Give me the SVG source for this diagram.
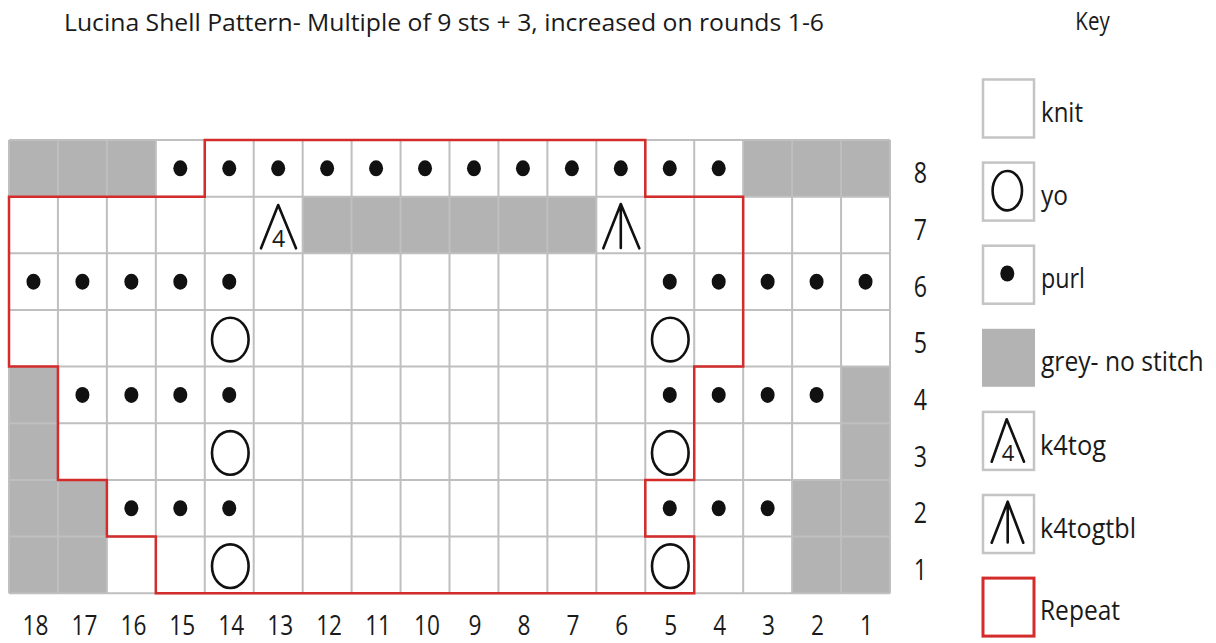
<svg xmlns="http://www.w3.org/2000/svg" width="1216" height="643" viewBox="0 0 1216 643">
<defs>
<style>
.t{font-family:"Open Sans","Noto Sans","Liberation Sans",sans-serif;fill:#1a1a1a}
.grid{stroke:#bfbfbf;stroke-width:2;fill:none}
.grey{fill:#b3b3b3}
.dot{fill:#111}
.yo{fill:none;stroke:#111;stroke-width:2.6}
.sym{fill:none;stroke:#111;stroke-width:2.6;stroke-linecap:round;stroke-linejoin:round}
.rep{fill:none;stroke:#d42b2b;stroke-width:2.5}
.kbox{fill:#fff;stroke:#c4c4c4;stroke-width:2.5}
.num{font-size:29px;text-anchor:middle}
.cnum{font-size:27px;text-anchor:middle}
.lab{font-size:28px}
</style>
<ellipse id="purl" class="dot" cx="0" cy="0" rx="7" ry="8"/>
<ellipse id="yo" class="yo" cx="0" cy="0" rx="18.3" ry="21.8"/>
</defs>
<rect width="1216" height="643" fill="#fff"/>

<text id="title" class="t" x="64" y="31" font-size="24" textLength="760" lengthAdjust="spacingAndGlyphs">Lucina Shell Pattern- Multiple of 9 sts + 3, increased on rounds 1-6</text>

<g id="chart">
<rect x="9" y="140" width="881" height="453.2" fill="#fff"/>
<g id="grey-cells">
<rect class="grey" x="9" y="140" width="146.83" height="56.65"/>
<rect class="grey" x="743.17" y="140" width="146.83" height="56.65"/>
<rect class="grey" x="302.67" y="196.65" width="293.66" height="56.65"/>
<rect class="grey" x="9" y="366.6" width="48.94" height="226.6"/>
<rect class="grey" x="57.94" y="479.9" width="48.95" height="113.3"/>
<rect class="grey" x="841.06" y="366.6" width="48.94" height="226.6"/>
<rect class="grey" x="792.11" y="479.9" width="48.95" height="113.3"/>
</g>
<path class="grid" d="M9 140V593.2M57.94 140V593.2M106.89 140V593.2M155.83 140V593.2M204.78 140V593.2M253.72 140V593.2M302.67 140V593.2M351.61 140V593.2M400.56 140V593.2M449.5 140V593.2M498.44 140V593.2M547.39 140V593.2M596.33 140V593.2M645.28 140V593.2M694.22 140V593.2M743.17 140V593.2M792.11 140V593.2M841.06 140V593.2M890 140V593.2M9 140H890M9 196.65H890M9 253.3H890M9 309.95H890M9 366.6H890M9 423.25H890M9 479.9H890M9 536.55H890M9 593.2H890"/>
</g>

<g id="purls">
<use href="#purl" x="180.31" y="168.33"/><use href="#purl" x="229.25" y="168.33"/><use href="#purl" x="278.19" y="168.33"/><use href="#purl" x="327.14" y="168.33"/><use href="#purl" x="376.08" y="168.33"/><use href="#purl" x="425.03" y="168.33"/><use href="#purl" x="473.97" y="168.33"/><use href="#purl" x="522.92" y="168.33"/><use href="#purl" x="571.86" y="168.33"/><use href="#purl" x="620.81" y="168.33"/><use href="#purl" x="669.75" y="168.33"/><use href="#purl" x="718.69" y="168.33"/>
<use href="#purl" x="33.47" y="281.63"/><use href="#purl" x="82.42" y="281.63"/><use href="#purl" x="131.36" y="281.63"/><use href="#purl" x="180.31" y="281.63"/><use href="#purl" x="229.25" y="281.63"/><use href="#purl" x="669.75" y="281.63"/><use href="#purl" x="718.69" y="281.63"/><use href="#purl" x="767.64" y="281.63"/><use href="#purl" x="816.58" y="281.63"/><use href="#purl" x="865.53" y="281.63"/>
<use href="#purl" x="82.42" y="394.93"/><use href="#purl" x="131.36" y="394.93"/><use href="#purl" x="180.31" y="394.93"/><use href="#purl" x="229.25" y="394.93"/><use href="#purl" x="669.75" y="394.93"/><use href="#purl" x="718.69" y="394.93"/><use href="#purl" x="767.64" y="394.93"/><use href="#purl" x="816.58" y="394.93"/>
<use href="#purl" x="131.36" y="508.23"/><use href="#purl" x="180.31" y="508.23"/><use href="#purl" x="229.25" y="508.23"/><use href="#purl" x="669.75" y="508.23"/><use href="#purl" x="718.69" y="508.23"/><use href="#purl" x="767.64" y="508.23"/>
</g>

<g id="yos">
<use href="#yo" x="230.3" y="339.6"/><use href="#yo" x="670.3" y="339.6"/>
<use href="#yo" x="230.3" y="452.9"/><use href="#yo" x="670.3" y="452.9"/>
<use href="#yo" x="230.3" y="566.2"/><use href="#yo" x="670.3" y="566.2"/>
</g>

<g id="k4tog-cell">
<path class="sym" d="M261 248.3L278.2 205L296 248.3"/>
<text class="t" x="278.5" y="246.5" font-size="23" text-anchor="middle">4</text>
</g>
<g id="k4togtbl-cell">
<path class="sym" d="M603.3 248.3L620.8 204L639.3 248.3M620.8 204V248"/>
</g>

<g id="connectors">
<path id="repeat-outline" class="rep" d="M204.78 140H645.28V196.65H743.17V366.6H694.22V479.9H645.28V536.55H694.22V593.2H155.83V536.55H106.89V479.9H57.94V366.6H9V196.65H204.78Z"/>
</g>

<g id="row-labels" class="t num">
<text transform="translate(920.5 183.3) scale(0.8 1)">8</text>
<text transform="translate(920.5 240) scale(0.8 1)">7</text>
<text transform="translate(920.5 296.6) scale(0.8 1)">6</text>
<text transform="translate(920.5 353.3) scale(0.8 1)">5</text>
<text transform="translate(920.5 409.9) scale(0.8 1)">4</text>
<text transform="translate(920.5 466.6) scale(0.8 1)">3</text>
<text transform="translate(920.5 523.2) scale(0.8 1)">2</text>
<text transform="translate(920.5 579.9) scale(0.8 1)">1</text>
</g>

<g id="col-labels" class="t cnum">
<text transform="translate(35.5 634.5) scale(0.84 1)">18</text>
<text transform="translate(84.4 634.5) scale(0.84 1)">17</text>
<text transform="translate(133.4 634.5) scale(0.84 1)">16</text>
<text transform="translate(182.3 634.5) scale(0.84 1)">15</text>
<text transform="translate(231.2 634.5) scale(0.84 1)">14</text>
<text transform="translate(280.2 634.5) scale(0.84 1)">13</text>
<text transform="translate(329.1 634.5) scale(0.84 1)">12</text>
<text transform="translate(378.1 634.5) scale(0.84 1)">11</text>
<text transform="translate(427 634.5) scale(0.84 1)">10</text>
<text transform="translate(475 634.5) scale(0.84 1)">9</text>
<text transform="translate(523.9 634.5) scale(0.84 1)">8</text>
<text transform="translate(572.9 634.5) scale(0.84 1)">7</text>
<text transform="translate(621.8 634.5) scale(0.84 1)">6</text>
<text transform="translate(670.8 634.5) scale(0.84 1)">5</text>
<text transform="translate(719.7 634.5) scale(0.84 1)">4</text>
<text transform="translate(768.6 634.5) scale(0.84 1)">3</text>
<text transform="translate(817.6 634.5) scale(0.84 1)">2</text>
<text transform="translate(866.5 634.5) scale(0.84 1)">1</text>
</g>

<g id="key">
<text id="key-title" class="t" transform="translate(1092.5 30) scale(0.82 1)" font-size="25" text-anchor="middle">Key</text>
<g id="key-knit">
<rect class="kbox" x="983" y="79.5" width="51" height="58"/>
<text class="t lab" x="1041" y="121.5" textLength="42" lengthAdjust="spacingAndGlyphs">knit</text>
</g>
<g id="key-yo">
<rect class="kbox" x="983" y="162.6" width="51" height="58"/>
<ellipse class="yo" cx="1007.3" cy="190.7" rx="14.7" ry="19.7"/>
<text class="t lab" x="1041" y="204.6" textLength="27" lengthAdjust="spacingAndGlyphs">yo</text>
</g>
<g id="key-purl">
<rect class="kbox" x="983" y="245.7" width="51" height="58"/>
<ellipse class="dot" cx="1007.3" cy="273.5" rx="7" ry="8"/>
<text class="t lab" x="1041" y="287.7" textLength="44" lengthAdjust="spacingAndGlyphs">purl</text>
</g>
<g id="key-grey">
<rect class="grey" x="982" y="328.8" width="53" height="58"/>
<text class="t lab" transform="translate(1041 370.8) scale(0.88 1)">grey- no stitch</text>
</g>
<g id="key-k4tog">
<rect class="kbox" x="983" y="411.9" width="51" height="58"/>
<path class="sym" d="M991.7 461.7L1006.7 419.3L1024 461.7"/>
<text class="t" x="1008" y="461" font-size="22" text-anchor="middle">4</text>
<text class="t lab" x="1040" y="454.5" textLength="66" lengthAdjust="spacingAndGlyphs">k4tog</text>
</g>
<g id="key-k4togtbl">
<rect class="kbox" x="983" y="495" width="51" height="58"/>
<path class="sym" d="M991.7 542.7L1007.7 501.7L1023.3 542.7M1007.7 501.7V542.5"/>
<text class="t lab" x="1040" y="537.5" textLength="96" lengthAdjust="spacingAndGlyphs">k4togtbl</text>
</g>
<g id="key-repeat">
<rect x="983" y="578.1" width="51" height="58" fill="#fff" stroke="#d42b2b" stroke-width="3"/>
<text class="t lab" x="1040" y="620" textLength="80" lengthAdjust="spacingAndGlyphs">Repeat</text>
</g>
</g>
</svg>
